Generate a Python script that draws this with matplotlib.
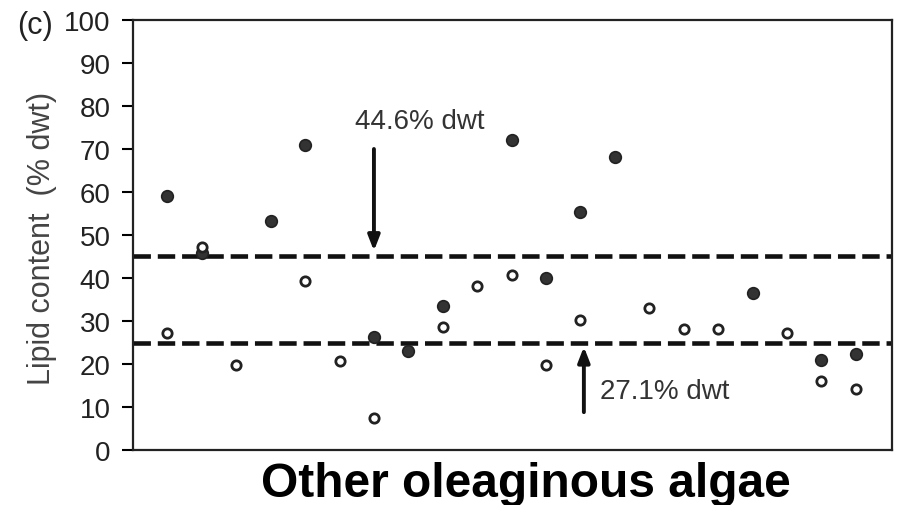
import matplotlib
matplotlib.use("Agg")
import matplotlib.pyplot as plt
import numpy as np

plt.rcParams['font.family'] = ['Liberation Sans', 'DejaVu Sans']

# Species index (x positions)
species = list(range(1, 22))
# Filled circles (None = no point)
filled = [59.1, 45.8, None, 53.3, 71.0, None, 26.3, 23.1, 33.4, None, 72.2,
          40.0, 55.3, 68.2, None, None, None, 36.4, None, 20.9, 22.3]
# Open circles
open_ = [27.1, 47.2, 19.8, None, 39.2, 20.8, 7.4, None, 28.7, 38.2, 40.7,
         19.8, 30.2, None, 33.0, 28.1, 28.1, None, 27.1, 16.1, 14.2]
# Reference lines
upper_line = 45.2
lower_line = 24.8
upper_label = "44.6% dwt"
lower_label = "27.1% dwt"
yticks = list(range(0, 101, 10))

fig = plt.figure(figsize=(9, 5.06), dpi=100)
ax = fig.add_axes([0.1478, 0.1087, 0.991 - 0.1478, 0.9585 - 0.1087])

fx = [s for s, v in zip(species, filled) if v is not None]
fy = [v for v in filled if v is not None]
ox = [s for s, v in zip(species, open_) if v is not None]
oy = [v for v in open_ if v is not None]

ax.axhline(upper_line, color='#111111', lw=3.3, ls=(0, (3.8, 1.5)), zorder=1)
ax.axhline(lower_line, color='#111111', lw=3.3, ls=(0, (3.8, 1.5)), zorder=1)

ax.scatter(fx, fy, s=70, color='#333333', edgecolors='#222222', linewidths=1.2, zorder=3)
ax.scatter(ox, oy, s=45, facecolors='white', edgecolors='#222222', linewidths=2.0, zorder=3)

ax.annotate('', xy=(7, 46.3), xytext=(7, 70),
            arrowprops=dict(arrowstyle='-|>,head_width=0.35,head_length=0.9',
                            color='#111111', lw=2.8, shrinkA=0, shrinkB=0))
ax.text(8.33, 76.6, upper_label, ha='center', va='center', fontsize=20, color='#333333')

ax.annotate('', xy=(13.1, 24.0), xytext=(13.1, 8.8),
            arrowprops=dict(arrowstyle='-|>,head_width=0.35,head_length=0.9',
                            color='#111111', lw=2.8, shrinkA=0, shrinkB=0))
ax.text(13.57, 13.8, lower_label, ha='left', va='center', fontsize=20, color='#333333')

ax.set_xlim(0, 22.05)
ax.set_ylim(0, 100)
ax.set_yticks(yticks)
ax.set_xticks([])
ax.tick_params(axis='y', direction='out', length=8, width=1.5, labelsize=20,
               labelcolor='#222222', pad=8)
for sp in ax.spines.values():
    sp.set_linewidth(1.6)
    sp.set_color('#222222')

fig.text(42 / 900, 1 - 238 / 506, 'Lipid content  (% dwt)', rotation=90,
         ha='center', va='center', fontsize=22, color='#444444')
fig.text(17 / 900, 1 - 26 / 506, '(c)', fontsize=22, color='#222222', va='center', ha='left')
fig.text(526 / 900, 1 - 497 / 506, 'Other oleaginous algae', fontsize=34.5,
         fontweight='bold', color='black', ha='center', va='baseline')

fig.savefig('out.png', dpi=100)
